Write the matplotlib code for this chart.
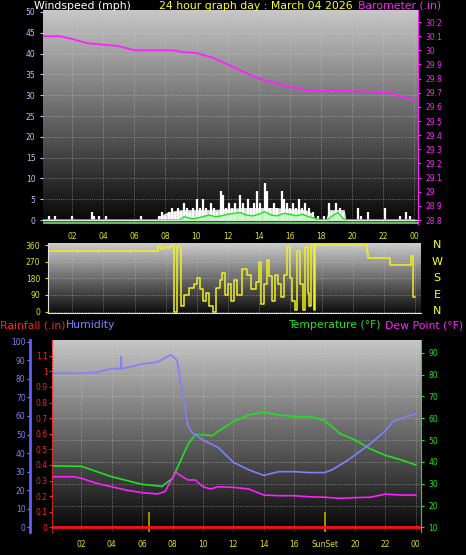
import numpy as np
import matplotlib
matplotlib.use("Agg")
import matplotlib.pyplot as plt

W, H = 466, 555

# ---- data (hours, values) ----
baro_h = [0, 1.2, 2, 3, 4, 5, 6, 7, 8, 8.5, 9, 10, 11, 12, 13, 14, 15, 16, 17, 18, 19, 20, 21, 22, 22.5, 23, 23.5, 24]
baro_v = [30.10, 30.10, 30.08, 30.05, 30.04, 30.03, 30.00, 30.00, 30.00, 30.00, 29.99, 29.98, 29.95, 29.90, 29.85, 29.80,
          29.77, 29.74, 29.72, 29.71, 29.72, 29.71, 29.71, 29.70, 29.70, 29.68, 29.66, 29.65]

gust_h = [0.5, 0.9, 2.0, 3.3, 3.4, 3.7, 4.2, 6.4, 7.6, 7.8, 8.0, 8.2, 8.4, 8.6, 8.8, 9.0, 9.2, 9.4, 9.6, 9.8, 10.0, 10.2,
          10.4, 10.6, 10.9, 11.1, 11.3, 11.6, 11.7, 11.9, 12.1, 12.3, 12.5, 12.8, 13.0, 13.3, 13.5, 13.7, 13.9, 14.1,
          14.4, 14.5, 14.7, 15.0, 15.2, 15.5, 15.6, 15.8, 16.0, 16.2, 16.4, 16.6, 16.8, 17.0, 17.2, 17.5, 17.8, 18.2,
          18.5, 18.7, 19.0, 19.2, 19.4, 20.4, 20.6, 21.0, 22.1, 23.1, 23.5, 23.7]
gust_v = [1, 1, 1, 2, 1, 1, 1, 1, 1, 2, 1, 2, 3, 2, 3, 2, 4, 3, 2, 3, 5, 3, 5, 3, 4, 3, 2, 7, 6, 3, 4, 3, 4, 6, 4, 5, 3, 4,
          7, 4, 9, 7, 3, 4, 3, 7, 5, 4, 3, 4, 3, 5, 3, 4, 3, 2, 1, 1, 4, 2, 4, 3, 2, 3, 1, 2, 3, 1, 2, 1]
# steady gust band under the spikes
band_h = [7.6, 8.2, 9.0, 10.0, 11.0, 12.0, 13.0, 14.0, 15.0, 16.0, 17.0, 17.5, 17.6, 18.3, 18.5, 19.5, 19.6]
band_v = [1, 2, 2.5, 2.5, 2.5, 2.8, 3, 3, 3, 2.8, 2.5, 1.5, 0, 0, 2.5, 2.5, 0]
avg_h = [0, 8.9, 9.2, 9.5, 9.8, 10.2, 10.5, 10.8, 11.2, 11.6, 12.0, 12.4, 12.8, 13.2, 13.6, 14.0, 14.4, 14.8, 15.2, 15.6,
         16.0, 16.4, 16.8, 17.2, 17.6, 18.0, 18.4, 18.8, 19.1, 19.4, 19.6, 24]
avg_v = [0, 0, 0.8, 0.5, 0.3, 0.6, 0.9, 1.2, 0.8, 1.0, 1.4, 1.6, 1.8, 1.2, 1.0, 1.4, 2.0, 1.2, 1.0, 1.6, 1.4, 1.0, 1.4,
         0.8, 0.4, 0, 0, 1.2, 1.8, 0.4, 0, 0]

dir_h = [0, 7.35, 7.5, 7.7, 7.9, 8.1, 8.3, 8.45, 8.55, 8.7, 8.9, 9.0, 9.2, 9.5, 9.8, 10.0, 10.2, 10.4, 10.6, 10.8, 11.0,
         11.2, 11.5, 11.6, 11.8, 12.0, 12.2, 12.4, 12.6, 12.9, 13.2, 13.5, 13.8, 14.0, 14.1, 14.3, 14.5, 14.6, 14.8,
         15.0, 15.2, 15.4, 15.6, 15.8, 16.0, 16.1, 16.3, 16.4, 16.6, 16.8, 16.9, 17.1, 17.2, 17.3, 17.5, 17.6, 20.7,
         20.9, 21.0, 22.3, 22.4, 23.7, 23.75, 23.85, 24]
dir_v = [330, 330, 355, 340, 350, 345, 355, 355, 0, 355, 355, 30, 90, 130, 150, 180, 120, 60, 100, 30, 0, 130, 170, 210,
         90, 150, 60, 170, 90, 230, 200, 120, 160, 270, 40, 150, 280, 190, 60, 200, 150, 80, 200, 350, 180, 60, 10, 330,
         150, 10, 350, 100, 30, 360, 10, 360, 360, 320, 290, 290, 250, 250, 300, 80, 80]

hum_h = [0, 2, 3, 4, 4.6, 4.62, 4.65, 5, 6, 7, 7.9, 8.3, 8.7, 9.0, 9.3, 10, 11, 12, 13, 14, 15, 16, 17, 18, 18.5, 19.5,
         20.5, 21, 22, 22.5, 23.5, 24]
hum_v = [83, 83, 83.5, 85.5, 85.5, 92, 85.5, 86, 88, 89, 93, 90, 70, 55, 51, 47, 43, 35, 31, 28, 30, 30, 29.5, 29.5, 31,
         36, 42, 45, 52, 57, 60, 61]

temp_h = [0, 2, 4, 6, 7.3, 8, 9, 9.5, 10.6, 11, 12, 13, 14, 15, 16, 17, 18, 19, 20, 21, 22, 23, 24]
temp_v = [38.1, 38, 33.2, 29.7, 28.8, 32.5, 47.8, 52.7, 52, 54, 58.5, 61.5, 62.8, 61.5, 60.8, 60.8, 59, 53, 50, 46, 43,
          41, 38.6]

dew_h = [0, 1.5, 2, 3, 4, 5, 6, 7, 7.5, 8.2, 9, 9.5, 10, 10.5, 11, 12, 13, 14, 15, 16, 17, 18, 19, 20, 21, 22, 23, 24]
dew_v = [33.2, 33.2, 32.5, 30.2, 28.6, 27, 25.9, 25.3, 26.4, 35.2, 31.7, 31.7, 28.6, 27.6, 28.6, 28.3, 27.6, 24.8, 24.5,
         24.5, 24, 23.8, 23.3, 23.6, 23.8, 25.2, 24.8, 24.8]

sun_events = [6.48, 18.0]
hour_ticks = [2, 4, 6, 8, 10, 12, 14, 16, 18, 20, 22, 24]
hour_labels = ["02", "04", "06", "08", "10", "12", "14", "16", "18", "20", "22", "00"]

fig = plt.figure(figsize=(W / 100, H / 100), dpi=100, facecolor="black")


def px_axes(x0, y0, x1, y1):
    return fig.add_axes([x0 / W, 1 - y1 / H, (x1 - x0) / W, (y1 - y0) / H])


def gradient(ax, top=0.78, bot=0.02):
    g = np.linspace(top, bot, 256).reshape(-1, 1)
    ax.imshow(g, cmap="gray", vmin=0, vmax=1, aspect="auto", extent=[0, 1, 0, 1],
              transform=ax.transAxes, zorder=0)


def style(ax):
    ax.set_facecolor("black")
    for s in ax.spines.values():
        s.set_visible(False)
    ax.grid(True, color="#d0d0d0", linestyle=":", linewidth=0.6, alpha=0.6)
    ax.set_axisbelow(False)


fs = 5.5
tfs = 7.8

# ---- top: wind + barometer ----
ax1 = px_axes(43, 10, 418, 224)
style(ax1)
gradient(ax1)
ax1.set_xlim(0.13, 24.24)
ax1.set_ylim(-0.96, 50.48)
ax1.set_yticks(range(0, 51, 5))
ax1.set_xticks(hour_ticks)
ax1.set_xticklabels(hour_labels)
ax1.tick_params(axis="x", colors="#e0e020", labelsize=fs, length=0, pad=6)
ax1.tick_params(axis="y", colors="#c0c0ff", labelsize=fs, length=2)
ax1.fill_between(band_h, 0, band_v, color="white", alpha=0.85, zorder=3, linewidth=0)
ax1.vlines(gust_h, 0, gust_v, color="white", linewidth=1.6, zorder=3)
ax1.fill_between(avg_h, 0, avg_v, color="#b0ffb0", alpha=0.6, zorder=3)
ax1.plot(avg_h, avg_v, color="#20e020", linewidth=1, zorder=4)
ax1.axhline(0, color="#e0e0e0", linewidth=1, zorder=4)
ax1.axhline(-0.8, color="#70e070", linewidth=1.2, zorder=4)
ax1b = ax1.twinx()
ax1b.set_ylim(28.772, 30.285)
baro_ticks = np.round(np.arange(28.8, 30.21, 0.1), 1)
ax1b.set_yticks(baro_ticks)
ax1b.set_yticklabels([f"{v:g}" for v in baro_ticks])
ax1b.tick_params(axis="y", colors="#ff20ff", labelsize=fs, length=2)
for s in ax1b.spines.values():
    s.set_visible(False)
ax1b.spines["right"].set_visible(True)
ax1b.spines["right"].set_color("#ff20ff")
ax1b.plot(baro_h, baro_v, color="#ff20ff", linewidth=1.3)

fig.text(34 / W, 1 - 6 / H, "Windspeed (mph)", color="white", fontsize=tfs, va="center")
fig.text(256 / W, 1 - 6 / H, "24 hour graph day : March 04 2026", color="#ffff20", fontsize=tfs, va="center", ha="center")
fig.text(441 / W, 1 - 6 / H, "Barometer (.in)", color="#ff20ff", fontsize=tfs, va="center", ha="right")

# ---- middle: wind direction ----
ax2 = px_axes(48, 243, 421, 313)
style(ax2)
gradient(ax2, 0.8, 0.05)
ax2.set_xlim(0.45, 24.37)
ax2.set_ylim(-7.5, 371)
ax2.set_yticks([0, 90, 180, 270, 360])
ax2.set_xticks(hour_ticks)
ax2.tick_params(axis="x", labelbottom=False, length=0)
ax2.tick_params(axis="y", colors="#e0e020", labelsize=fs, length=2)
ax2.spines["left"].set_visible(True)
ax2.spines["left"].set_color("#e0e0e0")
ax2.spines["bottom"].set_visible(True)
ax2.spines["bottom"].set_color("#e0e0e0")
ax2.step(dir_h, dir_v, where="post", color="#f0f020", linewidth=1.1)
for i, c in enumerate(["N", "W", "S", "E", "N"]):
    fig.text(437 / W, 1 - (245 + i * 16.5) / H, c, color="#ffff20", fontsize=8, ha="center", va="center")

fig.text(0 / W, 1 - 325 / H, "Rainfall (.in)", color="#ff2020", fontsize=tfs, va="center")
fig.text(66 / W, 1 - 325 / H, "Humidity", color="#8080ff", fontsize=tfs, va="center")
fig.text(381 / W, 1 - 325 / H, "Temperature (°F)", color="#20e020", fontsize=tfs, va="center", ha="right")
fig.text(463 / W, 1 - 325 / H, "Dew Point (°F)", color="#ff20ff", fontsize=tfs, va="center", ha="right")

# ---- bottom: temp / dew / humidity / rain ----
ax3 = px_axes(52, 340, 421, 532)
style(ax3)
gradient(ax3)
ax3.set_xlim(0.07, 24.34)
ax3.set_ylim(7.85, 95.9)
ax3.set_xticks(hour_ticks)
ax3.set_xticklabels([("SunSet" if l == "18" else l) for l in hour_labels])
ax3.tick_params(axis="x", colors="#e0e020", labelsize=fs, length=0, pad=6)
ax3.vlines(sun_events, 7.85, 17, color="#c0a000", linewidth=1.2, zorder=3)
ax3.plot(temp_h, temp_v, color="#20e020", linewidth=1.2, zorder=4)
ax3.plot(dew_h, dew_v, color="#ff20ff", linewidth=1.2, zorder=4)

axh = ax3.twinx()
axh.set_ylim(-2.5, 100.9)
axh.yaxis.tick_left()
for s in axh.spines.values():
    s.set_visible(False)
axh.spines["left"].set_visible(True)
axh.spines["left"].set_position(("outward", 16))
axh.spines["left"].set_color("#6060ff")
axh.spines["left"].set_linewidth(2)
axh.set_yticks(range(0, 101, 10))
axh.tick_params(axis="y", colors="#8080ff", labelsize=fs, length=2, pad=1)
axh.plot(hum_h, hum_v, color="#8080ff", linewidth=1.2, zorder=4)

axr = ax3.twinx()
axr.set_ylim(-2.5 * 0.0119, 100.9 * 0.0119)
axr.yaxis.tick_left()
for s in axr.spines.values():
    s.set_visible(False)
axr.spines["left"].set_visible(True)
axr.spines["left"].set_color("#ff2020")
axr.spines["left"].set_linestyle(":")
rain_ticks = np.round(np.arange(0, 1.11, 0.1), 1)
axr.set_yticks(rain_ticks)
axr.set_yticklabels([f"{v:g}" for v in rain_ticks])
axr.tick_params(axis="y", colors="#ff2020", labelsize=fs, length=2, pad=1)
axr.axhline(0, color="#ff1010", linewidth=2)

# temperature scale on the right (after twinx, which resets tick side)
ax3.set_yticks(range(10, 91, 10))
ax3.yaxis.tick_right()
ax3.tick_params(axis="y", colors="#20e020", labelsize=fs, length=2)
ax3.spines["right"].set_visible(True)
ax3.spines["right"].set_color("#20e020")

fig.savefig("out.png", dpi=100, facecolor="black")
